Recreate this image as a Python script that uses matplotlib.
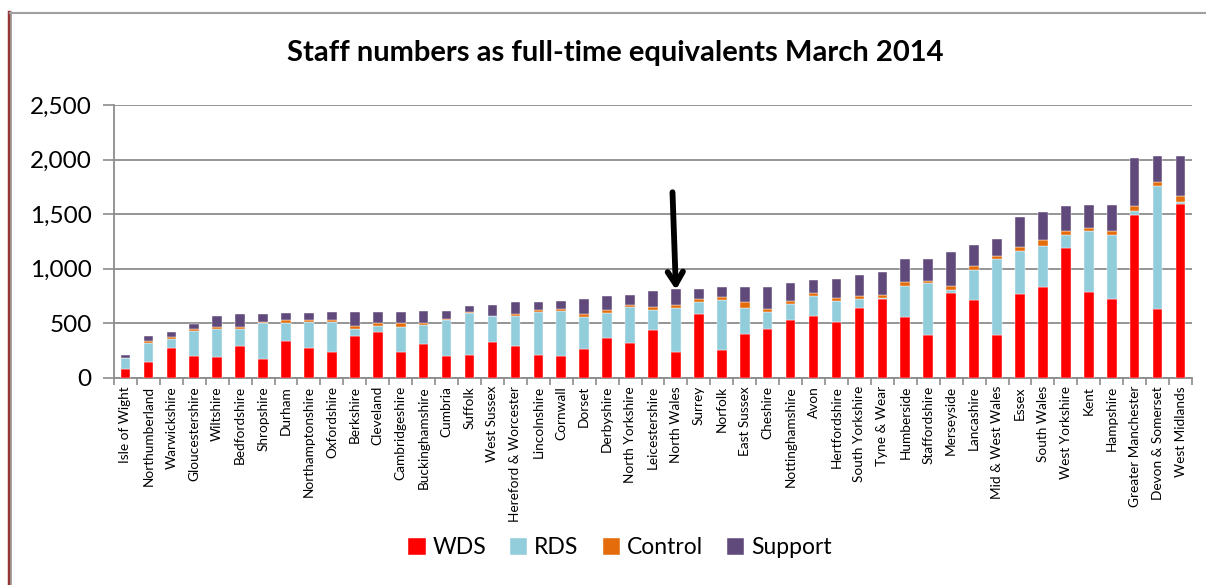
import matplotlib
matplotlib.use("Agg")
import matplotlib.pyplot as plt
from matplotlib.lines import Line2D
import numpy as np

plt.rcParams['font.family'] = ['Lato', 'DejaVu Sans']

categories = ["Isle of Wight", "Northumberland", "Warwickshire", "Gloucestershire", "Wiltshire",
              "Bedfordshire", "Shropshire", "Durham", "Northamptonshire", "Oxfordshire",
              "Berkshire", "Cleveland", "Cambridgeshire", "Buckinghamshire", "Cumbria",
              "Suffolk", "West Sussex", "Hereford & Worcester", "Lincolnshire", "Cornwall",
              "Dorset", "Derbyshire", "North Yorkshire", "Leicestershire", "North Wales",
              "Surrey", "Norfolk", "East Sussex", "Cheshire", "Nottinghamshire",
              "Avon", "Hertfordshire", "South Yorkshire", "Tyne & Wear", "Humberside",
              "Staffordshire", "Merseyside", "Lancashire", "Mid & West Wales", "Essex",
              "South Wales", "West Yorkshire", "Kent", "Hampshire", "Greater Manchester",
              "Devon & Somerset", "West Midlands"]

wds = [80, 144, 269, 202, 193, 287, 174, 339, 275, 239,
       382, 416, 239, 306, 202, 211, 330, 294, 205, 196,
       263, 367, 321, 434, 239, 587, 254, 404, 450, 532,
       563, 508, 640, 719, 553, 391, 780, 713, 391, 771,
       832, 1193, 783, 719, 1495, 627, 1596]
rds = [100, 177, 86, 226, 257, 156, 324, 159, 236, 272,
       68, 61, 223, 180, 330, 385, 233, 275, 397, 416,
       297, 229, 330, 190, 397, 110, 462, 232, 155, 144,
       183, 192, 80, 15, 288, 477, 24, 275, 698, 388,
       379, 113, 559, 590, 34, 1131, 13]
control = [3, 15, 15, 15, 18, 22, 16, 28, 18, 18,
           24, 21, 36, 12, 5, 5, 5, 18, 22, 18,
           21, 22, 19, 24, 28, 25, 21, 58, 25, 24,
           31, 28, 26, 27, 34, 16, 40, 36, 30, 43,
           49, 43, 28, 40, 46, 40, 61]
support = [25, 46, 49, 49, 95, 119, 73, 64, 61, 70,
           125, 107, 107, 110, 75, 53, 102, 107, 70, 76,
           141, 134, 91, 144, 146, 91, 95, 138, 202, 165,
           116, 177, 193, 211, 211, 202, 306, 196, 153, 275,
           257, 229, 217, 235, 443, 236, 364]

series_names = ["WDS", "RDS", "Control", "Support"]
series_colors = ["#FF0000", "#92CDDC", "#E46C0A", "#604A7B"]
y_ticks = [0, 500, 1000, 1500, 2000, 2500]
title = "Staff numbers as full-time equivalents March 2014"
arrow_target = "North Wales"

fig = plt.figure(figsize=(12.06, 5.85), dpi=100)
W, H = 1206, 585
ax = fig.add_axes([114 / W, 1 - 377.7 / H, (1192 - 114) / W, (377.7 - 105) / H])

x = np.arange(len(categories))
bottom = np.zeros(len(categories))
for vals, name, col in zip([wds, rds, control, support], series_names, series_colors):
    v = np.array(vals, dtype=float)
    ax.bar(x, v, bottom=bottom, width=0.42, color=col, label=name,
           edgecolor='white', linewidth=0.3, zorder=3)
    bottom += v

ax.set_xlim(-0.5, len(categories) - 0.5)
ax.set_ylim(0, 2500)
ax.set_yticks(y_ticks)
ax.set_yticklabels([f"{t:,}" for t in y_ticks], fontsize=17.5)
ax.yaxis.grid(True, color='#8c8c8c', linewidth=1.3, zorder=0)
ax.set_axisbelow(True)

ax.set_xticks(x)
ax.set_xticklabels(categories, rotation=90, fontsize=9.8)
ax.tick_params(axis='x', length=0, pad=6)
ax.set_xticks(np.arange(-0.5, len(categories), 1), minor=True)
ax.tick_params(axis='x', which='minor', length=5, color='#8c8c8c', width=1.2)
ax.tick_params(axis='y', length=8, color='#8c8c8c', width=1.2, pad=8)

for s in ['top', 'right']:
    ax.spines[s].set_visible(False)
for s in ['left', 'bottom']:
    ax.spines[s].set_color('#8c8c8c')
    ax.spines[s].set_linewidth(1.3)

fig.text(615 / W, 1 - 53 / H, title, ha='center', va='center',
         fontsize=21, fontweight='bold')

leg = fig.legend(loc='center', bbox_to_anchor=(620 / W, 1 - 548 / H), ncol=4,
                 frameon=False, fontsize=16.5, handlelength=0.75, handleheight=0.75,
                 handletextpad=0.3, columnspacing=1.05)

idx = categories.index(arrow_target)
ax.annotate("", xy=(idx, 805), xytext=(idx - 0.15, 1700),
            arrowprops=dict(arrowstyle='->,head_length=0.9,head_width=0.55',
                            color='black', lw=4.2, shrinkA=0, shrinkB=0), zorder=5)

# figure border lines
fig.add_artist(Line2D([8.5 / W, 8.5 / W], [0, 1 - 12 / H], color='#943634', lw=2.5,
                      transform=fig.transFigure))
fig.add_artist(Line2D([11 / W, 11 / W], [0, 1 - 12 / H], color='#a0a0a0', lw=1.2,
                      transform=fig.transFigure))
fig.add_artist(Line2D([10 / W, 1], [1 - 13 / H, 1 - 13 / H], color='#a0a0a0', lw=1.5,
                      transform=fig.transFigure))

fig.savefig("out.png", dpi=100)
